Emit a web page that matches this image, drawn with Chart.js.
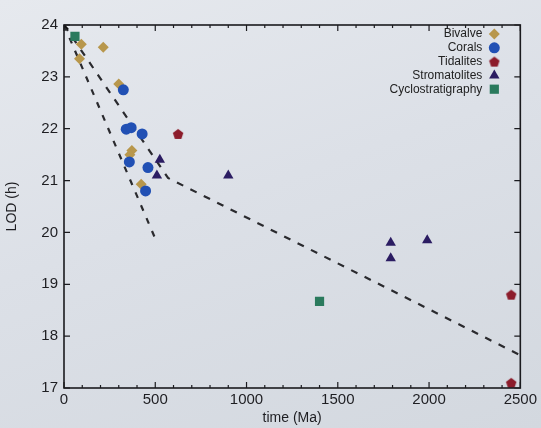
<!DOCTYPE html>
<html>
<head>
<meta charset="utf-8">
<script src="https://cdn.jsdelivr.net/npm/chart.js@4"></script>
<style>
  html, body { margin: 0; padding: 0; }
  body { background: linear-gradient(160deg, #e6e9ee 0%, #dce0e7 45%, #d3d8df 100%); }
  #wrap { width: 541px; height: 428px; position: relative; }
</style>
</head>
<body>
<div id="wrap"><canvas id="lodChart"></canvas></div>
<script>
// time in Ma, LOD in hours
var bivalveTime = [95, 85, 215, 300, 372, 361, 423];
var bivalveLod = [23.63, 23.35, 23.57, 22.86, 21.58, 21.5, 20.93];

var coralTime = [325, 341, 368, 428, 358, 460, 447];
var coralLod = [22.75, 21.99, 22.02, 21.9, 21.36, 21.25, 20.8];

var tidaliteTime = [625, 2450, 2450];
var tidaliteLod = [21.9, 18.8, 17.1];

var stromTime = [525, 509, 900, 1790, 1790, 1990];
var stromLod = [21.4, 21.1, 21.1, 19.8, 19.5, 19.85];

var cycloTime = [60, 1400];
var cycloLod = [23.78, 18.67];

var presentTime = [0];
var presentLod = [24];

// dashed trend lines
var steepTime = [0, 500];
var steepLod = [24, 19.88];
var trendTime = [0, 570, 2490];
var trendLod = [24, 21.05, 17.65];

var xTicks = [0, 500, 1000, 1500, 2000, 2500];
var yTicks = [17, 18, 19, 20, 21, 22, 23, 24];

function toPoints(xs, ys) {
  var pts = [];
  for (var i = 0; i < xs.length; i++) {
    pts.push({x: xs[i], y: ys[i]});
  }
  return pts;
}

// pentagon marker, no built-in style for it
function pentagon(size, color) {
  var c = document.createElement('canvas');
  c.width = size; c.height = size;
  var g = c.getContext('2d');
  var r = size / 2 - 0.5;
  g.beginPath();
  for (var k = 0; k < 5; k++) {
    var a = -Math.PI / 2 + k * 2 * Math.PI / 5;
    var px = size / 2 + r * Math.cos(a);
    var py = size / 2 + 0.6 + r * Math.sin(a);
    if (k === 0) g.moveTo(px, py); else g.lineTo(px, py);
  }
  g.closePath();
  g.fillStyle = color;
  g.fill();
  return c;
}

var fontFam = '"Liberation Sans", Arial, Helvetica, sans-serif';

// frame + inward ticks + legend inside the plot
var framePlugin = {
  id: 'frame',
  afterDraw: function(chart) {
    var ctx = chart.ctx;
    var a = chart.chartArea;
    var xs = chart.scales.x, ys = chart.scales.y;
    ctx.save();
    ctx.strokeStyle = '#1b1b1f';
    ctx.lineWidth = 1.6;
    ctx.strokeRect(a.left, a.top, a.right - a.left, a.bottom - a.top);
    ctx.lineWidth = 1.2;
    ctx.beginPath();
    for (var v = 0; v <= 2500; v += 100) {
      var px = xs.getPixelForValue(v);
      var len = (v % 500 === 0) ? 6 : 3;
      ctx.moveTo(px, a.bottom); ctx.lineTo(px, a.bottom - len);
      ctx.moveTo(px, a.top); ctx.lineTo(px, a.top + len);
    }
    for (var j = 0; j < yTicks.length; j++) {
      var py = ys.getPixelForValue(yTicks[j]);
      ctx.moveTo(a.left, py); ctx.lineTo(a.left + 6, py);
      ctx.moveTo(a.right, py); ctx.lineTo(a.right - 6, py);
    }
    ctx.stroke();

    // legend
    ctx.font = '12px ' + fontFam;
    ctx.textAlign = 'right';
    ctx.textBaseline = 'middle';
    var row = 0;
    chart.data.datasets.forEach(function(ds) {
      if (!ds.inLegend) return;
      var ly = a.top + 9 + row * 13.8;
      ctx.fillStyle = '#222';
      ctx.fillText(ds.label, a.right - 38, ly);
      ctx.fillStyle = ds.backgroundColor;
      Chart.helpers.drawPoint(ctx, {
        pointStyle: ds.pointStyle,
        radius: ds.pointRadius,
        borderWidth: 0,
        rotation: 0
      }, a.right - 26, ly);
      row++;
    });
    ctx.restore();
  }
};

function plainLabel(v) { return String(v); }

var ctx = document.getElementById('lodChart');
var lodChart = new Chart(ctx, {
  type: 'scatter',
  data: {
    datasets: [
      {
        label: 'Bivalve', inLegend: true,
        data: toPoints(bivalveTime, bivalveLod),
        pointStyle: 'rectRot', pointRadius: 5.5,
        backgroundColor: '#b8974c', borderWidth: 0, order: 2
      },
      {
        label: 'Corals', inLegend: true,
        data: toPoints(coralTime, coralLod),
        pointStyle: 'circle', pointRadius: 5.5,
        backgroundColor: '#2150b4', borderWidth: 0, order: 1
      },
      {
        label: 'Tidalites', inLegend: true,
        data: toPoints(tidaliteTime, tidaliteLod),
        pointStyle: pentagon(12, '#8c1c2b'), pointRadius: 6,
        backgroundColor: '#8c1c2b', borderWidth: 0, order: 1
      },
      {
        label: 'Stromatolites', inLegend: true,
        data: toPoints(stromTime, stromLod),
        pointStyle: 'triangle', pointRadius: 6,
        backgroundColor: '#2b1c62', borderWidth: 0, order: 1
      },
      {
        label: 'Cyclostratigraphy', inLegend: true,
        data: toPoints(cycloTime, cycloLod),
        pointStyle: 'rect', pointRadius: 6.5,
        backgroundColor: '#2a7a5d', borderWidth: 0, order: 1
      },
      {
        label: 'present',
        data: toPoints(presentTime, presentLod),
        pointStyle: 'crossRot', pointRadius: 6,
        borderColor: '#111', borderWidth: 1.6, order: 0
      },
      {
        label: 'steep',
        data: toPoints(steepTime, steepLod),
        showLine: true, pointRadius: 0,
        borderColor: '#2a2a2e', borderWidth: 2.2, borderDash: [6, 8], order: 10
      },
      {
        label: 'trend',
        data: toPoints(trendTime, trendLod),
        showLine: true, pointRadius: 0,
        borderColor: '#2a2a2e', borderWidth: 2.2, borderDash: [7, 8], order: 10
      }
    ]
  },
  options: {
    responsive: true,
    maintainAspectRatio: false,
    animation: false,
    layout: { padding: { top: 25, right: 16, left: 0, bottom: 0 } },
    plugins: {
      legend: { display: false },
      tooltip: { enabled: false }
    },
    scales: {
      x: {
        type: 'linear', min: 0, max: 2500,
        afterBuildTicks: function(s) {
          s.ticks = xTicks.map(function(v) { return {value: v}; });
        },
        grid: { display: false, drawTicks: false, tickLength: 0 },
        border: { display: false },
        ticks: { color: '#1e1e22', padding: 4, maxRotation: 0, callback: plainLabel, font: { size: 15, family: fontFam, lineHeight: 1 } },
        title: { display: true, text: 'time (Ma)', color: '#1e1e22', padding: { top: 2, bottom: 3 }, font: { size: 14, family: fontFam, lineHeight: 1 } },
        afterFit: function(s) { s.height = 40; }
      },
      y: {
        type: 'linear', min: 17, max: 24,
        afterBuildTicks: function(s) {
          s.ticks = yTicks.map(function(v) { return {value: v}; });
        },
        grid: { display: false, drawTicks: false, tickLength: 0 },
        border: { display: false },
        ticks: { color: '#1e1e22', padding: 6, callback: plainLabel, font: { size: 15, family: fontFam } },
        title: { display: true, text: 'LOD (h)', color: '#1e1e22', padding: { bottom: 2 }, font: { size: 14, family: fontFam } },
        afterFit: function(s) { s.width = 64; }
      }
    }
  },
  plugins: [framePlugin]
});
</script>
</body>
</html>
